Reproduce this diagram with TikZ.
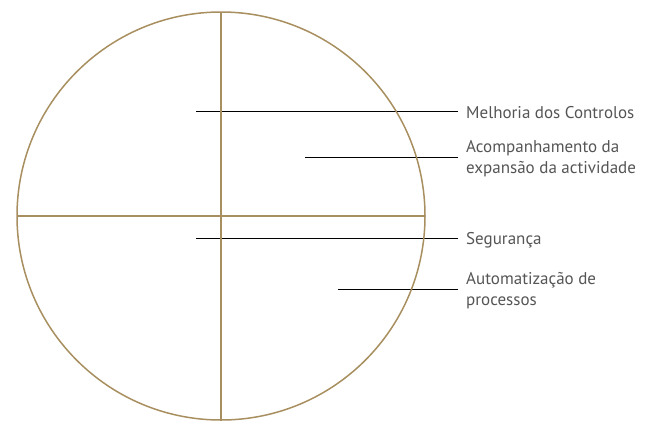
\documentclass[tikz,border=0pt]{standalone}
\usepackage{fontspec}
\setmainfont{PT Sans}
\definecolor{gold}{RGB}{168,143,96}
\definecolor{labelgray}{RGB}{85,85,85}
\begin{document}
\begin{tikzpicture}[x=1pt,y=-1pt,
    ring/.style={gold, line width=1.5pt},
    leader/.style={black, line width=0.8pt},
    lbl/.style={anchor=west, inner sep=0pt, align=left, text=labelgray,
      font=\fontsize{17}{21}\selectfont}]
    \useasboundingbox (0,0) rectangle (647,421);
    % leader lines (under the circle)
    \foreach \name/\xs/\ys/\txt in {
        m/196/111/{Melhoria dos Controlos},
        a/305/157/{Acompanhamento da\\expansão da actividade},
        s/196/238/{Segurança},
        p/338/289/{Automatização de\\processos}} {
      \coordinate (\name-start) at (\xs,\ys);
      \node[lbl] (\name-lbl) at (466,\ys+2) {\txt};
      \draw[leader] (\name-start) -- ([xshift=-8pt]\name-start -| \name-lbl.west);
    }
    % circle and cross
    \node[circle, minimum size=408pt, inner sep=0pt, draw=none] (disc) at (221,216) {};
    \draw[ring] (disc) circle (204);
    \draw[ring] (disc.north) -- (disc.south);
    \draw[ring] (disc.west) -- (disc.east);
  \end{tikzpicture}
\end{document}
